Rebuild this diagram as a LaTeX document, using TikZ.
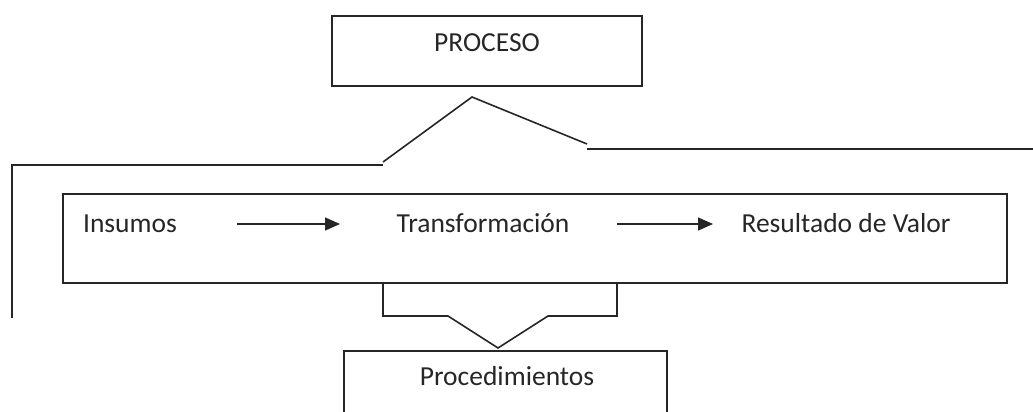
\documentclass[tikz,border=0pt]{standalone}
\usepackage{fontspec}
\setmainfont{Carlito}
\usetikzlibrary{arrows.meta}
\begin{document}
\begin{tikzpicture}[x=1pt,y=-1pt,
  lbl/.style={inner sep=0pt,anchor=base,font=\fontsize{27.5}{33}\selectfont,text=black!85},
  ln/.style={line width=1.6pt,draw=black!85},
  arr/.style={ln,-{Triangle[length=15pt,width=13pt]}}]
\useasboundingbox (0,0) rectangle (1033,412);
% PROCESO box
\node[ln,draw,rectangle,minimum width=310pt,minimum height=70pt,inner sep=0pt] (proc) at (487,51) {};
\node[lbl] (proct) at (487,52) {PROCESO};
% main box
\node[ln,draw,rectangle,minimum width=944pt,minimum height=89pt,inner sep=0pt] (main) at (535,238.5) {};
\node[lbl] (ins) at (130,232) {Insumos};
\node[lbl] (tra) at (483,232) {Transformación};
\node[lbl] (res) at (846,232) {Resultado de Valor};
\coordinate (a1s) at (237,224);
\coordinate (a1e) at (340,224);
\coordinate (a2s) at (617,224);
\coordinate (a2e) at (713,224);
\draw[arr] (a1s) -- (a1e);
\draw[arr] (a2s) -- (a2e);
% Procedimientos box (cut at bottom)
\coordinate (pbl) at (344,420);
\coordinate (ptl) at (344,351);
\coordinate (ptr) at (667,351);
\coordinate (pbr) at (667,420);
\draw[ln] (pbl) -- (ptl) -- (ptr) -- (pbr);
\node[lbl] (pro) at (507,385) {Procedimientos};
% upper bracket
\coordinate (u1) at (12,318);
\coordinate (u2) at (12,165);
\coordinate (u3) at (383,165);
\coordinate (u4) at (383,162);
\coordinate (u5) at (472,97);
\coordinate (u6) at (587,144);
\coordinate (u7) at (587,149);
\coordinate (u8) at (1040,149);
\draw[ln] (u1) -- (u2) -- (u3);
\draw[ln] (u4) -- (u5) -- (u6);
\draw[ln] (u7) -- (u8);
% lower bracket
\coordinate (l1) at (383,283);
\coordinate (l2) at (383,316);
\coordinate (l3) at (448,316);
\coordinate (l4) at (498,348);
\coordinate (l5) at (548,316);
\coordinate (l6) at (617,316);
\coordinate (l7) at (617,283);
\draw[ln] (l1) -- (l2) -- (l3) -- (l4) -- (l5) -- (l6) -- (l7);
\end{tikzpicture}
\end{document}
